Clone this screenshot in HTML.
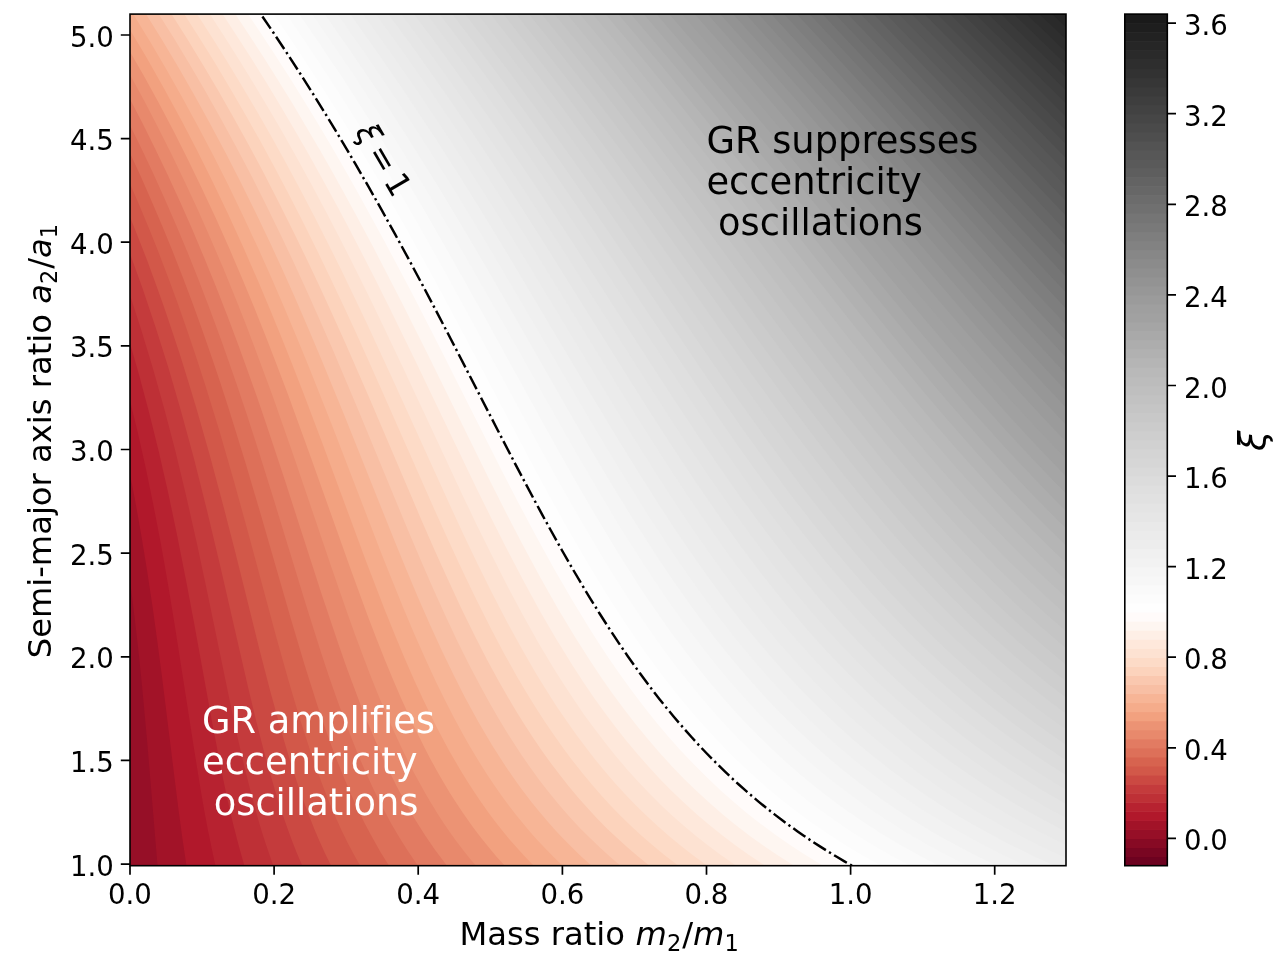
<!DOCTYPE html>
<html lang="en"><head><meta charset="utf-8"><title>GR eccentricity oscillations</title>
<style>
html,body{margin:0;padding:0;background:#fff;}
body{width:1280px;height:966px;overflow:hidden;}
svg{display:block;}
text{font-family:"DejaVu Sans","Liberation Sans",sans-serif;fill:#000;font-variant-ligatures:none;font-kerning:normal;white-space:pre;}
.tk{font-size:27.6px;}
.lb{font-size:32.2px;}
.an{font-size:36.8px;}
.it{font-style:italic;}
.sb{font-size:22.54px;}
.sp{fill:none;stroke:#000;stroke-width:1.6;stroke-linejoin:miter;}
.t{stroke:#000;stroke-width:1.7;fill:none;}
</style></head><body>
<svg width="1280" height="966" viewBox="0 0 1280 966">
<rect width="1280" height="966" fill="#fff"/>
<defs><clipPath id="ax"><rect x="130" y="14.1" width="936" height="851.6"/></clipPath></defs>
<g clip-path="url(#ax)" shape-rendering="geometricPrecision">
<rect x="130" y="14.1" width="936" height="851.6" fill="#960f27"/>
<path fill="#a21328" d="M157.6,866.6L1067,866.6L1067,13L129,13L129,573.9L132.6,601.1L136,629.5L139.2,658L142.3,688.8L147.3,743.3Z"/>
<path fill="#b1182b" d="M186.6,866.6L1067,866.6L1067,13L129,13L129,469L135.3,501.5L141.2,534.7L147,570.2L152.4,605.8L157,639L161.7,674.6L178.8,812.1L182.7,840.5Z"/>
<path fill="#b72230" d="M215.1,864.2L215.6,866.6L1067,866.6L1067,13L129,13L129,396.6L137.8,432.7L145.8,468.3L153.6,506.2L160.9,544.1L167.6,582.1L174.3,622.4L193.9,748.1L200.6,789.5L204.5,812.1L208,830.5L211.5,847.6Z"/>
<path fill="#be3036" d="M244.6,866.6L1067,866.6L1067,13L129,13L129,339.8L139.3,375.8L149.4,413.7L158.8,451.7L168,492L177,534.7L185.9,579.7L194.4,624.8L212.5,724.3L222.1,774.1L227.7,800.7L233.1,823.9L238.6,845.3Z"/>
<path fill="#c43b3c" d="M273.6,866.6L1067,866.6L1067,13L129,13L129,292.2L141.5,330.8L153,368.7L164.3,409L174.9,449.3L185.8,494.4L197,544.1L207.1,591.6L230.7,705.4L237.3,736.2L243.3,762.3L251,793.1L258.1,819.2L262.3,833.2L266.2,845.3Z"/>
<path fill="#cb4942" d="M301.6,864.2L302.6,866.6L1067,866.6L1067,13L129,13L129,251L142.4,288.1L156,328.4L168.7,368.7L181.1,411.4L194,458.8L207.1,511L220.1,565.5L248.4,688.8L256.4,722L263.7,750.4L273,783.6L278,800.2L282.6,814.4L287.6,828.7L291.9,840.5L296.6,852.4Z"/>
<path fill="#d25849" d="M330.4,864.2L331.6,866.6L1067,866.6L1067,13L129,13L129,214.4L137.6,235.9L146.8,259.6L155.5,283.3L164,307.1L172,330.8L180.6,356.8L188.7,382.9L196.6,409L210.1,456.4L223.4,506.2L235.6,553.6L259.8,650.9L270.2,691.1L280,726.7L289.4,758.8L294.4,774.3L299.3,789.1L304.3,803L309.5,816.8L314.2,828.7L319.2,840.5L324.6,852.4Z"/>
<path fill="#d7634f" d="M360.7,866.6L1067,866.6L1067,13L129,13L129,181.4L139.2,205.1L149.1,228.8L158.6,252.5L168.5,278.6L177.3,302.3L186.5,328.4L195.3,354.5L204.6,382.9L219.2,430.3L234.3,482.5L248,532.3L276.1,636.6L288.1,679.3L299.3,717.1L310.1,750.4L315.8,767L321.9,783.6L328.4,800.2L334.4,814.4L340.8,828.7L347.7,842.9L354,854.7Z"/>
<path fill="#dd7059" d="M388.1,864.2L389.7,866.6L1067,866.6L1067,13L129,13L129,151.2L140.8,176.6L151.3,200.4L161.4,224.1L172.1,250.1L182.4,276.2L192.2,302.3L202.5,330.8L212.4,359.2L220.4,382.9L228.8,409L245.7,463.5L260.4,513.3L291.2,620L304.6,665.1L317.4,705.4L323.8,724.3L329.7,740.9L336.8,759.9L343.8,777.3L351.2,794.7L358,809.7L365,823.9L372.6,838.1L380.7,852.4Z"/>
<path fill="#e27b62" d="M416.9,864.2L418.7,866.6L1067,866.6L1067,13L129,13L129,123.2L141.3,148.2L153.6,174.3L165.4,200.4L176.7,226.4L187.6,252.5L199,281L209.9,309.4L220.4,337.9L229.6,364L238.6,390L247.3,416.1L256.5,444.6L272.9,496.7L306.7,607.3L321.5,653.9L328.9,676.2L336.3,697.6L343.5,717.2L349.8,733.8L358.3,755.2L366,772.9L374.2,790.7L382.5,807.3L391.4,823.9L399.7,838.1L407.9,851.1Z"/>
<path fill="#e8896c" d="M445.8,864.2L447.7,866.6L1067,866.6L1067,13L129,13L129,97.2L141.9,122.1L154.9,148.2L167.4,174.3L180.5,202.7L192,228.8L204,257.3L215.6,285.7L227.6,316.5L237.4,342.6L246.9,368.7L257,397.1L266.7,425.6L284.8,480.1L321.5,593.8L338.3,643.7L346.6,667.4L354.5,688.8L361.7,707.7L369.4,726.7L378.3,747.6L387.2,767L396.5,786L405.5,802.8L414.9,819.2L425.2,835.6L435.1,850Z"/>
<path fill="#ec9374" d="M476.7,866.6L1067,866.6L1067,13L129,13L129,72.8L144.2,100.8L157.8,126.9L170.9,152.9L184.6,181.4L197.8,209.8L210.4,238.3L223.6,269.1L236.2,299.9L245.5,323.6L254.6,347.4L273,397.1L293.8,456.4L331.4,567.3L346.2,610.1L354.9,634.2L362.8,655.6L370,674.6L377.6,693.5L389.6,722L401.6,748.1L413.4,771.8L425.1,793.1L430.7,802.6L437.6,813.7L444.2,823.9L449.9,832.3L455.8,840.5L463,850L469.6,858.3Z"/>
<path fill="#f2a17f" d="M503.4,864.2L505.7,866.6L1067,866.6L1067,13L129,13L129,49.9L144.5,77.1L158.8,103.1L173.8,131.6L188.1,160.1L201.9,188.5L216.3,219.3L230,250.1L243.2,281L254,307.1L265.4,335.5L276.4,364L288.1,394.8L308.8,451.7L351.2,570.8L368.4,617.8L376.6,639L385,660.3L392.9,679.3L400.5,697.1L412.9,724.2L424.7,748.1L430.9,759.9L437.4,771.8L444.2,783.6L449.9,793L456,802.6L462.3,812.1L468.9,821.6L475.8,831L482,839.1L488.9,847.6L496.8,856.9Z"/>
<path fill="#f5ac8b" d="M532.3,864.2L534.7,866.6L1067,866.6L1067,13L129,13L129,28.1L146.8,58.1L164.3,88.9L181.1,119.7L197.1,150.6L212.5,181.4L228.3,214.6L243.5,247.8L259,283.3L270,309.4L280.7,335.5L291.1,361.6L302.2,390L322,442.2L365,558.4L384.1,608.2L394.6,634.2L404.5,658L413.8,679.3L423.6,700.6L436.4,726.7L449,750.4L461.4,771.8L468.7,783.6L474.9,793.1L481.3,802.6L488,812.1L495.1,821.6L502.6,831L509.1,839L516.7,847.6L523.9,855.6Z"/>
<path fill="#f7b596" d="M561.1,864.2L563.7,866.6L1067,866.6L1067,13L132.5,13L150,41.5L166.7,70L182.8,98.4L198.3,126.9L213.2,155.3L228.7,186.1L243.6,217L259,250.1L271.7,278.6L284,307.1L297,337.9L309.6,368.7L332.1,425.6L380.8,551.9L392.8,582.1L403,607.2L414.4,634.2L425.2,658.6L435.9,681.7L446.4,703L453.7,717.2L460.1,729.1L466.7,740.9L473.6,752.8L480.8,764.6L486.9,774.2L494.3,785.3L501.4,795.5L508.4,805L515.7,814.4L529.3,831L536.3,838.9L544.4,847.6L553.6,857Z"/>
<path fill="#f8bfa4" d="M590,864.2L592.7,866.6L1067,866.6L1067,13L145.3,13L161.5,39.1L178.5,67.6L194.8,96L210.5,124.5L225.7,152.9L240.3,181.4L255.5,212.2L270.2,243L282.2,269.1L294.9,297.6L308.3,328.4L321.3,359.2L344.6,416.1L394.9,541.8L406.6,570.2L417.8,596.9L430.1,625.1L441.9,650.8L453.4,674.6L464.2,695.9L471.8,710.1L478.4,722L485.3,733.8L492.4,745.7L499.9,757.5L507.7,769.4L515.9,781.2L522.8,790.7L531.4,801.9L539.6,812.1L547.6,821.6L556,831L563.4,838.8L572.1,847.6L580.7,855.9Z"/>
<path fill="#fac8af" d="M618.8,864.2L621.7,866.6L1067,866.6L1067,13L158,13L174.4,39.1L190.2,65.2L205.4,91.3L221.4,119.7L236.9,148.2L251.8,176.6L266.1,205.1L281.2,235.9L293.5,262L306.6,290.5L319.3,318.9L332.8,349.7L356.8,406.6L407.9,530L421,560.7L432.6,587.4L445.2,615.3L457.5,641.4L469.6,665.7L481.8,688.8L489.6,703L497.8,717.2L506.4,731.5L513.9,743.3L521.7,755.2L529.9,767L538.5,778.9L545.8,788.4L555.3,800.2L563.3,809.7L571.7,819.2L580.6,828.7L590,838.1L599.9,847.6L610.3,857Z"/>
<path fill="#fcd3bc" d="M647.6,864.2L650.7,866.6L1067,866.6L1067,13L170.8,13L187.3,39.1L203.2,65.2L218.6,91.3L233.5,117.4L247.9,143.5L263.2,171.9L277.8,200.4L293.2,231.2L305.8,257.3L318.1,283.3L331.2,311.8L345.1,342.6L368.9,397.1L421.6,520.4L435.1,551.2L446.9,577.3L461.2,608.2L474,634.2L486.9,659.5L499.3,682.2L508.5,698.3L516.5,711.8L524.3,724.3L533.6,738.6L541.7,750.4L551.1,763.5L559.1,774.1L568.5,786L578.3,797.7L586.8,807.3L597.8,819.2L607.2,828.7L617.1,838.1L627.6,847.6L637.5,856Z"/>
<path fill="#fddbc7" d="M676.5,864.2L679.7,866.6L1067,866.6L1067,13L183.5,13L198.7,36.8L214.9,62.8L230.5,88.9L245.6,115L260.3,141.1L274.5,167.2L289.4,195.6L304,224.1L316.9,250.1L329.5,276.2L343,304.7L356.1,333.1L380.6,387.7L435.1,511.1L449,541.8L462.2,570.2L477,601.1L490.1,627.1L503.9,653.2L517.2,676.9L526.4,692.5L535.8,707.7L545,722L553.6,734.6L563.1,748.1L572,759.9L581.3,771.8L591,783.6L600.5,794.5L610.3,805.2L620.2,815.4L631.3,826.3L641.6,835.8L652.6,845.3L664.1,854.7Z"/>
<path fill="#fde2d2" d="M705.3,864.2L708.7,866.6L1067,866.6L1067,13L196.3,13L211.6,36.8L226.5,60.5L240.9,84.2L256.3,110.3L271.2,136.3L285.7,162.4L299.7,188.5L314.6,217L327.8,243L340.8,269.1L353.4,295.2L366.9,323.6L392.2,378.2L449.3,503.8L463.6,534.7L477,562.7L492.5,593.9L507.3,622.4L521.6,648.5L536.3,673.9L546.2,690L556,705.4L565.6,719.6L575.6,733.8L585.7,747.3L595.5,759.9L605.2,771.8L615.3,783.4L625.2,794.2L635.5,805L647.4,816.6L657.9,826.3L668.7,835.8L680.2,845.3L692.3,854.7Z"/>
<path fill="#fee8db" d="M734.1,864.2L737.7,866.6L1067,866.6L1067,13L209.1,13L224.5,36.8L239.5,60.5L254.1,84.2L268.3,107.9L282.1,131.6L296.8,157.7L311.1,183.8L326.3,212.2L338.6,235.9L351.9,262L364.8,288.1L378.7,316.5L404.6,371.1L462.2,494.4L477,525.4L490.9,553.6L507.8,586.8L523,615.3L538.8,643.4L553.6,668.2L563.6,684L574.5,700.6L584.3,714.9L594.7,729.1L605.4,743.1L615.3,755.4L627.1,769.4L637.8,781.2L649,793.1L660.9,805L672.1,815.4L684.4,826.3L695.7,835.8L707.8,845.3L720.5,854.7Z"/>
<path fill="#feefe6" d="M763,864.2L766.7,866.6L1067,866.6L1067,13L221.8,13L235.9,34.4L251.1,58.1L265.9,81.8L280.2,105.5L294.2,129.2L309.2,155.3L322.4,179L336.6,205.1L349.2,228.8L362.8,254.9L376.1,281L390.3,309.4L415.7,361.6L476,487.2L491.9,519.5L506.7,548.8L524.1,582.1L541,612.9L556.2,639L572.3,665.1L583.1,681.7L593.1,696.4L604.6,712.5L615.3,726.7L626.5,740.9L637.5,754.1L648.9,767L659.9,778.9L671.5,790.7L683.8,802.6L696.7,814.3L709.1,824.8L722.8,835.8L735.3,845.3L748.7,854.7Z"/>
<path fill="#fef6f1" d="M791.8,864.2L795.7,866.6L1067,866.6L1067,13L234.6,13L248.8,34.4L264.1,58.1L277.6,79.4L292.2,103.1L306.3,126.9L320.2,150.6L333.7,174.3L346.8,198L359.7,221.7L373.6,247.8L400.5,299.9L426.6,352.1L489.4,479.7L506.7,513.9L521.5,542.5L540.2,577.3L557.7,608.2L574.7,636.6L590.6,661.6L602.4,679.3L612.8,694L624.7,710.1L635.7,724.3L647.4,738.6L659.6,752.8L672.1,766.4L684.1,778.9L696.3,790.7L709.1,802.5L721.4,813.3L734.4,823.9L748.6,834.9L762.9,845.3L776.9,854.7Z"/>
<path fill="#fffbfa" d="M820.6,864.2L824.7,866.6L1067,866.6L1067,13L247.3,13L261.7,34.4L275.6,55.7L289.3,77.1L304,100.8L317,122.1L331.1,145.8L344.8,169.5L358.2,193.2L384.2,240.7L411.8,292.8L438.5,345L501.7,470.5L520.2,506.2L536.3,536.5L554.9,570.2L573.3,602.1L590.6,630.3L599.2,643.7L608.6,658L620.2,674.8L632,691.1L644.7,707.7L656,722L668,736.2L680.7,750.4L694.1,764.6L706.6,777.1L721,790.7L733.8,802L746.1,812.4L760.8,823.9L775.7,835L790.5,845.3L805.1,854.7Z"/>
<path fill="#fefefe" d="M849.5,864.2L853.7,866.6L1067,866.6L1067,13L260.1,13L273,32L287.1,53.4L300.9,74.7L314.4,96L327.6,117.4L341.9,141.1L354.5,162.4L368.2,186.1L394.7,233.6L422.9,285.7L450.2,337.9L515,463.5L533.8,499.1L551.1,530.9L570.8,565.8L590.4,598.7L608.3,627.1L617.7,641.5L627.4,655.6L640,673.3L652.3,689.8L664.5,705.4L677,720.5L690.7,736.2L703.9,750.4L716.5,763.3L730.1,776.5L743.6,788.8L758.4,801.5L773.3,813.4L787.2,823.9L802.9,835.1L818.1,845.3L833.3,854.7Z"/>
<path fill="#fcfcfc" d="M878.3,864.2L882.7,866.6L1067,866.6L1067,13L272.8,13L285.8,32L300.1,53.4L326.2,93.7L339.6,115L352.6,136.3L378,179L405.1,226.4L433.8,278.6L461.8,330.8L528.9,458L548.6,494.5L565.7,525.2L586.3,560.7L596.2,577.3L606.5,593.9L617,610.5L626.4,624.8L636,639L644.9,651.7L658.1,669.8L670.8,686.4L684.2,703L696.7,717.7L711.2,733.8L723.9,747.2L736.6,759.9L751.7,774.1L767.8,788.4L782.1,800.2L797.3,812.1L812.8,823.4L827.6,833.6L844.8,844.7L861.5,854.7Z"/>
<path fill="#fafafa" d="M907.2,864.2L911.7,866.6L1067,866.6L1067,13L285.6,13L311.5,51L337.9,91.3L363.3,131.6L389.1,174.3L416.7,221.7L444.7,271.5L473.2,323.6L541.2,449.9L561,485.7L579.4,518.1L601.8,556L611.9,572.6L622.4,589.2L632.6,604.8L642.8,620L652.6,634.2L662.8,648.5L677,667.4L690.1,684L703.8,700.6L718.3,717.2L731.5,731.5L746.1,746.4L760.9,760.7L775.7,774.1L790.5,786.8L805.3,798.7L820.2,809.9L837.4,822.2L854.2,833.4L872,844.4L889.7,854.7Z"/>
<path fill="#f7f7f7" d="M936,864.2L940.7,866.6L1067,866.6L1067,13L298.4,13L322.9,48.6L348.1,86.6L373.9,126.9L398.7,167.2L426.8,214.6L455.3,264.4L484.4,316.5L554.9,444.6L575.8,481.6L594.2,513.3L617.1,551.3L627.6,568L638.2,584.5L649.2,601.1L659.7,616.3L670.8,631.9L681.2,646.1L695.8,665.1L709.2,681.7L723.3,698.3L738.2,714.9L753.5,730.9L768.3,745.6L783.1,759.5L797.9,772.5L814.2,786L829.3,797.8L845.5,809.7L862.7,821.6L881.1,833.4L899.1,844.2L917.9,854.7Z"/>
<path fill="#f5f5f5" d="M964.8,864.2L969.7,866.6L1067,866.6L1067,13L311.1,13L326.1,34.4L340.7,55.7L355.1,77.1L369.1,98.4L382.8,119.7L397.8,143.5L426.8,190.9L450.7,231.2L476.7,276.2L500.9,318.9L553.6,413L578.3,456.4L600.5,494.5L620.2,527.2L640,558.6L660.2,589.2L670,603.4L680.1,617.6L689.3,630.2L699.5,643.7L714,662.2L728.8,680L743.6,697L758.4,713L774.1,729.1L788.8,743.3L804.4,757.5L821,771.8L837.4,785L854.4,797.8L871.1,809.7L889,821.6L908,833.4L926.3,844L946,854.7Z"/>
<path fill="#f2f2f2" d="M993.7,864.2L998.7,866.6L1067,866.6L1067,13L323.9,13L352.1,53.4L366.6,74.7L380.8,96L408.4,138.7L437.9,186.1L462.2,226.4L488.7,271.5L513.3,314.2L565.9,406.3L590.6,448.9L612.8,486.3L633.8,520.4L655,553.6L666.1,570.2L677,586.1L687.5,601.1L697.8,615.3L708.5,629.5L717.7,641.4L733,660.3L748.6,678.6L764.1,695.9L779.8,712.5L795.5,728L811.8,743.3L827.9,757.5L844.8,771.6L862.1,785.1L879.5,797.8L896.8,809.7L915.2,821.6L934.9,833.4L953.5,843.8L974.3,854.7Z"/>
<path fill="#f0f0f0" d="M1022.5,864.2L1027.7,866.6L1067,866.6L1067,13L336.6,13L365.1,53.4L392.5,93.7L420.5,136.3L450.4,183.8L475.1,224.1L500.5,266.7L524.2,307.1L578.3,399.9L602.9,441.7L626.2,480.1L647.4,514.1L670.1,548.9L681.9,566.3L692.9,582.1L703.2,596.3L714,611L724.6,624.8L736.2,639.5L751.5,658L768,676.9L783.2,693.5L799.4,710.1L816.5,726.7L832.5,741.4L849.8,756.3L867.1,770.3L884.6,783.6L904.1,797.5L922.5,809.7L941.1,821.3L960.9,832.8L980.6,843.6L1002.5,854.7Z"/>
<path fill="#ededed" d="M1051.3,864.2L1056.7,866.6L1067,866.6L1067,13L349.4,13L378.1,53.4L405.8,93.7L434.1,136.3L461.4,179L486.4,219.3L512.3,262L590.6,393.8L615.3,434.8L640,474.9L661.4,508.6L673.8,527.6L685,544.1L696.7,561.1L708.3,577.3L720.4,593.9L731.2,608.2L742.3,622.4L753.8,636.6L769.8,655.6L786.7,674.6L802.9,691.8L820.2,709.1L837.4,725.5L854.7,740.9L871.8,755.2L889.8,769.4L909,783.6L926.3,795.6L946,808.4L965.8,820.4L985.5,831.6L1006.7,842.9L1030,854.4Z"/>
<path fill="#ebebeb" d="M1064.1,857.1L1067,858.4L1067,13L362.1,13L389.5,51L417.5,91.3L446.1,134L473.7,176.6L497.7,214.6L524,257.3L600.5,383.8L627.6,428.2L652.3,467.6L674.2,501.5L698.1,537L709.8,553.6L721.7,570.2L733.8,586.5L744.9,601.1L756.1,615.3L768.3,630.2L783.9,648.5L800.9,667.4L817.7,685.2L835,702.4L852.2,718.7L869.3,733.8L886.3,748.1L904.1,762.1L923.5,776.5L941.1,788.8L960.9,801.7L980.6,813.8L1000.4,825.1L1020.2,835.8L1042.3,846.9Z"/>
<path fill="#e9e9e9" d="M1066.5,845.3L1067,845.5L1067,13L374.9,13L402.5,51L429.1,88.9L456.5,129.2L484.5,171.9L508.8,209.8L534.1,250.1L612.8,378.1L637.5,417.9L662.2,456.8L685.2,492L709.4,527.6L721.4,544.5L733.2,560.7L743.8,575L756,590.8L767.8,605.8L778.2,618.4L793.6,636.6L810.3,655.3L826.1,672.2L842.4,688.8L859.7,705.4L876.9,721L894.2,735.8L911.5,749.8L928.8,762.9L947.6,776.5L965.8,788.8L985.5,801.3L1005.3,813.1L1024.6,823.9L1044.8,834.5Z"/>
<path fill="#e6e6e6" d="M1064.7,831L1067,832.2L1067,13L387.6,13L415.5,51L442.3,88.9L470,129.2L496.8,169.5L521.5,207.5L547.1,247.8L625.2,372.7L649.8,411.8L674.5,450.1L696,482.5L720.5,518.1L742.7,548.9L764.3,577.3L775.7,591.8L787.1,605.8L802.9,624.5L817.8,641.4L833.1,658L849.8,675.1L866.1,691.1L881.9,705.8L899.1,721L916.4,735.4L933.7,749L951,761.9L968.3,774.1L986.1,786L1005,797.8L1025.1,809.7L1044.8,820.6Z"/>
<path fill="#e4e4e4" d="M1063.8,816.8L1067,818.5L1067,13L400.4,13L426.7,48.6L453.9,86.6L481.9,126.9L509.1,167.2L532.5,202.7L558.5,243L635,363.5L661.1,404.3L684.4,439.9L706.6,473L731.3,508.5L753.5,539.1L775.5,567.9L796.4,593.9L812.4,612.9L827,629.5L842.4,646.3L858.2,662.7L874.5,678.9L890,693.5L905.8,707.7L922.5,722L938.6,735.1L955.5,748.1L973.2,760.9L990.5,772.9L1007.8,784.1L1026.1,795.5L1044.8,806.4Z"/>
<path fill="#e1e1e1" d="M1063.5,802.6L1067,804.5L1067,13L413.2,13L439.7,48.6L465.4,84.2L492.1,122.1L519.7,162.4L543.4,198L569.9,238.3L647.4,358.5L672.1,396.4L696.1,432.7L717,463.5L740.3,496.7L762.8,527.6L784.6,556L805.5,582.1L820.2,599.5L835,616.5L849.8,632.8L864.6,648.5L879.4,663.4L895.9,679.3L911.3,693.5L927.6,707.7L943.6,721.1L959.6,733.8L975.7,745.9L992.9,758.3L1009.2,769.4L1027.6,781.2L1044.8,791.7Z"/>
<path fill="#dfdfdf" d="M1063.8,788.4L1067,790.2L1067,13L425.9,13L452.7,48.6L478.6,84.2L505.6,122.1L531.8,160.1L555.9,195.6L581.1,233.6L659.7,353.6L684.4,391L707.7,425.6L728.8,456.3L751,487.7L773.3,517.8L793.5,544.1L814.4,570.2L830,588.9L844.8,605.8L859.7,622.2L873.2,636.6L887.2,650.8L901.7,665.1L916.8,679.3L932.7,693.5L948.5,707.1L963.9,719.6L979.1,731.5L995.4,743.6L1011.8,755.2L1029.5,767L1047.3,778.3Z"/>
<path fill="#dcdcdc" d="M1064.6,774.1L1067,775.6L1067,13L438.7,13L463.9,46.2L490.1,81.8L517.4,119.7L543.9,157.7L566.7,190.9L592.3,228.8L669.6,345.2L694.3,382.1L717.4,416.1L738.7,446.7L760.9,477.7L782,506.2L802.9,533.3L823.1,558.4L837.4,575.6L851.3,591.6L864.6,606.4L879.4,622.4L894.2,637.7L909,652.4L923.8,666.5L938.6,680.1L953.5,693L968.3,705.4L983.1,717.3L1000.4,730.5L1015.2,741.3L1031.6,752.8L1047.3,763.2Z"/>
<path fill="#d9d9d9" d="M1065.8,759.9L1067,760.7L1067,13L451.4,13L476.8,46.2L503.3,81.8L529.1,117.4L556,155.3L579,188.5L605,226.4L704.1,373.4L727,406.6L748.6,437.2L770.8,468L792.2,496.7L812.4,522.8L831.5,546.5L845.4,563.1L859.7,579.7L874.5,596.2L887.7,610.5L901.6,625.1L916.4,640L931.2,654.3L945.4,667.4L960.9,681.1L975.4,693.5L989.9,705.4L1005,717.2L1020.1,728.5L1034.9,739.2L1049.7,749.3Z"/>
<path fill="#d6d6d6" d="M1063.8,743.3L1067,745.5L1067,13L464.2,13L489.8,46.2L514.8,79.4L540.8,115L568,152.9L591.4,186.1L616,221.7L716.5,368.5L738.7,400.3L760.1,430.3L780.7,458.6L800.4,484.9L820.2,510.3L839.8,534.7L853.7,551.3L867.1,566.9L880.5,582.1L894.2,597L907,610.5L920.9,624.8L935.4,639L948.5,651.4L963.3,665L976.9,676.9L991,688.8L1005.3,700.4L1020.1,712L1033.5,722L1049.7,733.6Z"/>
<path fill="#d4d4d4" d="M1065.7,729.1L1067,730L1067,13L476.9,13L502.8,46.2L527.9,79.4L554.3,115L580,150.6L602,181.4L626.9,217L726.4,360.3L748.6,391.7L769.5,420.9L790.5,449.4L810.3,475.5L828.7,499.1L847.9,522.8L861.7,539.4L874.5,554.3L888.5,570.2L901.6,584.6L914.9,598.7L928.7,612.9L941.1,625.3L955.3,639L968.1,650.8L981.3,662.7L995,674.6L1009.3,686.4L1022.6,697.1L1036.4,707.7L1052.2,719.5Z"/>
<path fill="#d1d1d1" d="M1064.6,712.5L1067,714.2L1067,13L489.7,13L513.9,43.9L539.3,77.1L565.9,112.6L592,148.2L614.2,179L639.4,214.6L736.2,352.3L758.4,383.4L778.8,411.4L798.2,437.5L817.7,463.1L836.6,487.2L854.7,509.7L867.6,525.2L881.8,541.8L894.2,556L906.6,569.6L918.9,583L931.6,596.3L945.7,610.5L957.7,622.4L970.2,634.2L983.1,646.1L996.4,658L1010.2,669.8L1022.6,680.1L1036.4,691.1L1049.7,701.4Z"/>
<path fill="#cecece" d="M1063.9,695.9L1067,698.2L1067,13L502.5,13L526.8,43.9L550.7,74.7L575.8,107.9L602.2,143.5L648.5,207.5L748.6,347.9L770.8,378.6L789.7,404.3L809.2,430.3L827.6,454.2L844.8,476.2L862.1,497.5L887.4,527.6L899.8,541.8L912.5,556L923.8,568.3L936.8,582.1L950.7,596.3L962.6,608.2L974.8,620L987.5,631.9L1000.4,643.6L1012.7,654.4L1025.2,665.1L1037.4,675.1L1051.6,686.4Z"/>
<path fill="#cbcbcb" d="M1066.6,681.7L1067,682L1067,13L515.2,13L539.8,43.9L563.8,74.7L589.2,107.9L614,141.1L660.9,205.1L758.4,340.3L780.7,370.7L800.4,397.2L820.2,423.2L837.4,445.5L854.7,467.3L870.9,487.2L894.9,515.7L920,544.1L944.2,570.2L968.3,594.9L980.6,606.9L992.9,618.7L1005.3,630.1L1017.6,641.1L1030,651.8L1042.3,662.2Z"/>
<path fill="#c8c8c8" d="M1066.4,665.1L1067,665.6L1067,13L528,13L549,39.1L569.6,65.2L589.8,91.3L611.5,119.7L634.7,150.6L661.1,186.1L758.4,319.5L797.9,372.8L820.2,402.1L839.9,427.6L859.7,452.6L878.2,475.4L902.2,503.8L926.3,531.3L949.1,556L972,579.7L995.4,602.7L1019.1,624.8L1042.3,645.1Z"/>
<path fill="#c5c5c5" d="M1066.4,648.5L1067,648.9L1067,13L540.7,13L561.9,39.1L582.6,65.2L603.1,91.3L625,119.7L648.4,150.6L673.3,183.8L768.3,312.4L806.9,364L827.6,391L847.3,416.3L867.1,441.1L885.3,463.5L909,491.6L931.2,517L953.9,541.8L976.6,565.5L998,586.8L1020.4,608.2L1044.1,629.5Z"/>
<path fill="#c2c2c2" d="M1066.7,631.9L1067,632.2L1067,13L553.5,13L574.8,39.1L595.7,65.2L616.3,91.3L638.4,119.7L662.1,150.6L687.2,183.8L778.2,305.5L815.2,354.4L835.4,380.6L855.8,406.6L874.5,429.9L892.3,451.7L914.3,477.8L937,503.8L958.6,527.6L980.6,550.8L1002.2,572.6L1024.3,593.9L1045,612.9Z"/>
<path fill="#bfbfbf" d="M1064.3,612.9L1067,615.2L1067,13L566.2,13L585.8,36.8L606.9,62.8L627.7,88.9L650,117.4L697.5,179L788.1,298.7L825.1,347.1L844.8,372.5L864.6,397.5L881.9,419L899,439.8L921,465.9L941.7,489.6L963.1,513.3L983.1,534.6L1002.8,554.9L1023.2,575L1043.3,593.9Z"/>
<path fill="#bcbcbc" d="M1064.9,596.3L1067,598.2L1067,13L579,13L598.7,36.8L620,62.8L640.9,88.9L663.5,117.4L709.6,176.6L797.9,292.1L832.5,336.9L870.7,385.3L889.3,408.2L905.6,428L927.7,454.1L948.3,477.8L968.3,499.9L987.4,520.4L1007.8,541.5L1027,560.7L1046.9,579.7Z"/>
<path fill="#b9b9b9" d="M1065.6,579.7L1067,581L1067,13L591.7,13L611.6,36.8L633,62.8L676.9,117.4L721.6,174.3L807.8,285.7L842.4,330L879.4,376.4L911.5,415.5L932.1,439.8L952.7,463.5L971.8,484.9L990.5,505.1L1009.6,525.2L1028.4,544.1L1047.3,562.5Z"/>
<path fill="#b5b5b5" d="M1066.3,563.1L1067,563.8L1067,13L604.5,13L624.5,36.8L646.1,62.8L688.4,115L733.6,171.9L817.7,279.4L852.2,323.2L886.8,366.2L918.9,405.1L938.6,428.3L958.4,451L978.1,473L995.4,491.9L1012.7,510.1L1030,527.8L1048.9,546.5Z"/>
<path fill="#b1b1b1" d="M1064.6,544.1L1067,546.5L1067,13L617.3,13L637.4,36.8L659.2,62.8L701.9,115L745.6,169.5L827.6,273.3L859.7,313.6L894.2,356.2L923.8,391.9L942.4,413.7L960.9,435.1L979.9,456.4L997.2,475.4L1015,494.4L1031.1,511L1047.5,527.6Z"/>
<path fill="#adadad" d="M1065.3,527.6L1067,529.2L1067,13L630,13L670.3,60.5L713.4,112.6L757.5,167.2L837.4,267.3L869.5,307.1L901.6,346.4L931.2,381.9L948.5,402.2L966.9,423.2L983.7,442.2L1000.4,460.5L1016.5,477.8L1032.4,494.5L1048.6,511Z"/>
<path fill="#a9a9a9" d="M1066.1,511L1067,511.8L1067,13L642.8,13L683.3,60.5L724.8,110.3L769.4,164.8L876.9,297.8L909,336.8L938.6,372.1L972.6,411.4L988,428.6L1004.6,446.9L1020.1,463.6L1035.8,480.1L1051.9,496.7Z"/>
<path fill="#a5a5a5" d="M1066.9,494.4L1067,494.5L1067,13L655.5,13L696.4,60.5L738.2,110.3L781.2,162.4L886.8,291.7L916.4,327.4L943.6,359.5L976.2,397.1L1007.8,432.4L1037.4,464.1L1052.2,479.5Z"/>
<path fill="#a1a1a1" d="M1065.2,475.4L1067,477.2L1067,13L668.3,13L707.4,58.1L749.6,107.9L793,160.1L894.2,282.8L923.8,318.2L951,350.1L981.6,385.3L1010.2,417.2L1037.8,446.9Z"/>
<path fill="#9f9f9f" d="M1065.9,458.8L1067,459.9L1067,13L681,13L720.4,58.1L763,107.9L804.8,157.7L904.1,276.9L931.2,309.1L955.9,337.9L985.5,371.9L1012.7,402.2L1039.8,431.6Z"/>
<path fill="#9b9b9b" d="M1066.4,442.2L1067,442.8L1067,13L693.8,13L733.4,58.1L774.3,105.5L814.5,152.9L911.5,268.3L938.6,300.2L963.3,328.9L990.5,359.8L1017.6,390L1042.3,416.8Z"/>
<path fill="#979797" d="M1066.9,425.6L1067,13L706.6,13L746.5,58.1L787.7,105.5L826.2,150.6L921.4,262.7L969.8,318.9L995.4,347.9L1020.1,375.4L1044.5,401.9Z"/>
<path fill="#939393" d="M1065.1,406.6L1067,408.7L1067,13L719.3,13L757.4,55.7L798.9,103.1L837.8,148.2L928.8,254.4L975.7,308.4L1000.4,336.2L1022.6,360.9L1044.8,385.1Z"/>
<path fill="#8f8f8f" d="M1065.3,390L1067,391.8L1067,13L732.1,13L770.4,55.7L810.2,100.8L849.4,145.8L938.6,249L980.6,297L1002.8,322L1025,346.6L1044.8,368.1Z"/>
<path fill="#8b8b8b" d="M1065.5,373.4L1067,375.1L1067,13L744.8,13L783.5,55.7L823.5,100.8L861,143.5L946,241L988,288.6L1028.1,333.1Z"/>
<path fill="#878787" d="M1065.5,356.8L1067,358.5L1067,13L757.6,13L794.3,53.4L834.7,98.4L955.9,235.9L995.4,280.3L1032.4,321.2Z"/>
<path fill="#828282" d="M1065.3,340.2L1067,342L1067,13L770.3,13L807.4,53.4L845.9,96L963.3,228.1L1000.4,269.4L1034.9,307.4Z"/>
<path fill="#7e7e7e" d="M1065,323.6L1067,325.7L1067,13L783.1,13L818.2,51L857.1,93.7L1007.8,261.4L1037.4,293.9Z"/>
<path fill="#797979" d="M1066.8,309.4L1067,309.6L1067,13L795.8,13L826.8,46.2L861.7,84.2L1005.3,242.8L1037.4,277.8Z"/>
<path fill="#757575" d="M1066.2,292.8L1067,293.7L1067,13L808.6,13L839.8,46.2L874.9,84.2L1010.2,232.4L1039.8,264.6Z"/>
<path fill="#707070" d="M1065.4,276.2L1067,278L1067,13L821.4,13L852.7,46.2L888.1,84.2L1015.2,222.3Z"/>
<path fill="#6c6c6c" d="M1066.6,262L1067,262.4L1067,13L834.1,13L865.7,46.2L901.3,84.2L1022.6,214.9Z"/>
<path fill="#676767" d="M1065.4,245.4L1067,247L1067,13L846.9,13L878.6,46.2L914.5,84.2L1025,202.4Z"/>
<path fill="#636363" d="M1066.3,231.2L1067,231.9L1067,13L859.6,13L891.6,46.2L927.7,84.2Z"/>
<path fill="#5e5e5e" d="M1064.8,214.6L1067,216.9L1067,13L872.4,13L904.6,46.2L938.7,81.8Z"/>
<path fill="#5a5a5a" d="M1065.3,200.4L1067,202.2L1067,13L885.1,13L949.6,79.4Z"/>
<path fill="#575757" d="M1065.6,186.1L1067,187.6L1067,13L897.9,13L960.5,77.1Z"/>
<path fill="#535353" d="M1065.7,171.9L1067,173.3L1067,13L910.7,13L971.3,74.7Z"/>
<path fill="#4e4e4e" d="M1065.6,157.7L1067,159.1L1067,13L923.4,13L979.8,70Z"/>
<path fill="#4a4a4a" d="M1065.3,143.5L1067,145.1L1067,13L936.2,13L990.5,67.6Z"/>
<path fill="#464646" d="M1064.9,129.2L1067,131.4L1067,13L948.9,13L998.9,62.8Z"/>
<path fill="#424242" d="M1066.5,117.4L1067,117.8L1067,13L961.7,13L1007.2,58.1Z"/>
<path fill="#3e3e3e" d="M1065.7,103.1L1067,104.5L1067,13L974.4,13L1015.5,53.4Z"/>
<path fill="#3a3a3a" d="M1064.6,88.9L1067,91.3L1067,13L987.2,13Z"/>
<path fill="#363636" d="M1065.7,77.1L1067,78.3L1067,13L999.9,13Z"/>
<path fill="#323232" d="M1066.7,65.2L1067,65.5L1067,13L1012.7,13Z"/>
<path fill="#2e2e2e" d="M1065,51L1067,52.9L1067,13L1025.5,13Z"/>
<path fill="#2a2a2a" d="M1065.6,39.1L1067,40.5L1067,13L1038.2,13Z"/>
<path fill="#262626" d="M1066,27.3L1067,28.2L1067,13L1051,13Z"/>
<path fill="#222222" d="M1066.3,15.4L1067,16.1L1067,13L1063.7,13Z"/>
<path d="M260.77,14.05L273.79,33.26L287.92,54.60L301.71,75.94L315.18,97.28L328.35,118.63L342.51,142.10L355.09,163.44L368.64,186.92L381.91,210.40L394.92,233.87L408.86,259.48L422.56,285.09L436.06,310.71L450.51,338.45L497.75,430.22L515.47,464.37L525.58,483.58L534.67,500.65L542.73,515.59L550.91,530.53L561.64,549.74L571.42,566.81L581.44,583.88L590.46,598.82L599.73,613.76L609.29,628.70L619.18,643.64L627.95,656.45L633.96,664.98L640.12,673.52L646.42,682.06L652.89,690.59L659.53,699.13L666.36,707.67L673.38,716.21L678.79,722.61L686.21,731.14L691.92,737.55L699.77,746.08L705.83,752.49L712.06,758.89L718.46,765.29L725.04,771.69L731.82,778.10L738.80,784.50L746.00,790.90L753.43,797.31L758.52,801.57L766.37,807.98L774.50,814.38L782.91,820.78L788.69,825.05L797.64,831.45L803.79,835.72L813.33,842.12L819.91,846.39L830.12,852.79L837.17,857.06L844.43,861.33L851.90,865.60" fill="none" stroke="#000" stroke-width="2.45" stroke-dasharray="14.752 3.688 2.305 3.688" stroke-dashoffset="21.51"/>
</g>
<g>
<rect x="1124.8" y="856.54" width="42.5" height="9.06" fill="#6d0220"/>
<rect x="1124.8" y="847.48" width="42.5" height="9.66" fill="#790622"/>
<rect x="1124.8" y="838.42" width="42.5" height="9.66" fill="#870a24"/>
<rect x="1124.8" y="829.36" width="42.5" height="9.66" fill="#960f27"/>
<rect x="1124.8" y="820.30" width="42.5" height="9.66" fill="#a21328"/>
<rect x="1124.8" y="811.25" width="42.5" height="9.66" fill="#b1182b"/>
<rect x="1124.8" y="802.19" width="42.5" height="9.66" fill="#b72230"/>
<rect x="1124.8" y="793.13" width="42.5" height="9.66" fill="#be3036"/>
<rect x="1124.8" y="784.07" width="42.5" height="9.66" fill="#c43b3c"/>
<rect x="1124.8" y="775.01" width="42.5" height="9.66" fill="#cb4942"/>
<rect x="1124.8" y="765.95" width="42.5" height="9.66" fill="#d25849"/>
<rect x="1124.8" y="756.89" width="42.5" height="9.66" fill="#d7634f"/>
<rect x="1124.8" y="747.83" width="42.5" height="9.66" fill="#dd7059"/>
<rect x="1124.8" y="738.77" width="42.5" height="9.66" fill="#e27b62"/>
<rect x="1124.8" y="729.71" width="42.5" height="9.66" fill="#e8896c"/>
<rect x="1124.8" y="720.66" width="42.5" height="9.66" fill="#ec9374"/>
<rect x="1124.8" y="711.60" width="42.5" height="9.66" fill="#f2a17f"/>
<rect x="1124.8" y="702.54" width="42.5" height="9.66" fill="#f5ac8b"/>
<rect x="1124.8" y="693.48" width="42.5" height="9.66" fill="#f7b596"/>
<rect x="1124.8" y="684.42" width="42.5" height="9.66" fill="#f8bfa4"/>
<rect x="1124.8" y="675.36" width="42.5" height="9.66" fill="#fac8af"/>
<rect x="1124.8" y="666.30" width="42.5" height="9.66" fill="#fcd3bc"/>
<rect x="1124.8" y="657.24" width="42.5" height="9.66" fill="#fddbc7"/>
<rect x="1124.8" y="648.18" width="42.5" height="9.66" fill="#fde2d2"/>
<rect x="1124.8" y="639.12" width="42.5" height="9.66" fill="#fee8db"/>
<rect x="1124.8" y="630.06" width="42.5" height="9.66" fill="#feefe6"/>
<rect x="1124.8" y="621.01" width="42.5" height="9.66" fill="#fef6f1"/>
<rect x="1124.8" y="611.95" width="42.5" height="9.66" fill="#fffbfa"/>
<rect x="1124.8" y="602.89" width="42.5" height="9.66" fill="#fefefe"/>
<rect x="1124.8" y="593.83" width="42.5" height="9.66" fill="#fcfcfc"/>
<rect x="1124.8" y="584.77" width="42.5" height="9.66" fill="#fafafa"/>
<rect x="1124.8" y="575.71" width="42.5" height="9.66" fill="#f7f7f7"/>
<rect x="1124.8" y="566.65" width="42.5" height="9.66" fill="#f5f5f5"/>
<rect x="1124.8" y="557.59" width="42.5" height="9.66" fill="#f2f2f2"/>
<rect x="1124.8" y="548.53" width="42.5" height="9.66" fill="#f0f0f0"/>
<rect x="1124.8" y="539.47" width="42.5" height="9.66" fill="#ededed"/>
<rect x="1124.8" y="530.42" width="42.5" height="9.66" fill="#ebebeb"/>
<rect x="1124.8" y="521.36" width="42.5" height="9.66" fill="#e9e9e9"/>
<rect x="1124.8" y="512.30" width="42.5" height="9.66" fill="#e6e6e6"/>
<rect x="1124.8" y="503.24" width="42.5" height="9.66" fill="#e4e4e4"/>
<rect x="1124.8" y="494.18" width="42.5" height="9.66" fill="#e1e1e1"/>
<rect x="1124.8" y="485.12" width="42.5" height="9.66" fill="#dfdfdf"/>
<rect x="1124.8" y="476.06" width="42.5" height="9.66" fill="#dcdcdc"/>
<rect x="1124.8" y="467.00" width="42.5" height="9.66" fill="#d9d9d9"/>
<rect x="1124.8" y="457.94" width="42.5" height="9.66" fill="#d6d6d6"/>
<rect x="1124.8" y="448.88" width="42.5" height="9.66" fill="#d4d4d4"/>
<rect x="1124.8" y="439.82" width="42.5" height="9.66" fill="#d1d1d1"/>
<rect x="1124.8" y="430.77" width="42.5" height="9.66" fill="#cecece"/>
<rect x="1124.8" y="421.71" width="42.5" height="9.66" fill="#cbcbcb"/>
<rect x="1124.8" y="412.65" width="42.5" height="9.66" fill="#c8c8c8"/>
<rect x="1124.8" y="403.59" width="42.5" height="9.66" fill="#c5c5c5"/>
<rect x="1124.8" y="394.53" width="42.5" height="9.66" fill="#c2c2c2"/>
<rect x="1124.8" y="385.47" width="42.5" height="9.66" fill="#bfbfbf"/>
<rect x="1124.8" y="376.41" width="42.5" height="9.66" fill="#bcbcbc"/>
<rect x="1124.8" y="367.35" width="42.5" height="9.66" fill="#b9b9b9"/>
<rect x="1124.8" y="358.29" width="42.5" height="9.66" fill="#b5b5b5"/>
<rect x="1124.8" y="349.23" width="42.5" height="9.66" fill="#b1b1b1"/>
<rect x="1124.8" y="340.18" width="42.5" height="9.66" fill="#adadad"/>
<rect x="1124.8" y="331.12" width="42.5" height="9.66" fill="#a9a9a9"/>
<rect x="1124.8" y="322.06" width="42.5" height="9.66" fill="#a5a5a5"/>
<rect x="1124.8" y="313.00" width="42.5" height="9.66" fill="#a1a1a1"/>
<rect x="1124.8" y="303.94" width="42.5" height="9.66" fill="#9f9f9f"/>
<rect x="1124.8" y="294.88" width="42.5" height="9.66" fill="#9b9b9b"/>
<rect x="1124.8" y="285.82" width="42.5" height="9.66" fill="#979797"/>
<rect x="1124.8" y="276.76" width="42.5" height="9.66" fill="#939393"/>
<rect x="1124.8" y="267.70" width="42.5" height="9.66" fill="#8f8f8f"/>
<rect x="1124.8" y="258.64" width="42.5" height="9.66" fill="#8b8b8b"/>
<rect x="1124.8" y="249.59" width="42.5" height="9.66" fill="#878787"/>
<rect x="1124.8" y="240.53" width="42.5" height="9.66" fill="#828282"/>
<rect x="1124.8" y="231.47" width="42.5" height="9.66" fill="#7e7e7e"/>
<rect x="1124.8" y="222.41" width="42.5" height="9.66" fill="#797979"/>
<rect x="1124.8" y="213.35" width="42.5" height="9.66" fill="#757575"/>
<rect x="1124.8" y="204.29" width="42.5" height="9.66" fill="#707070"/>
<rect x="1124.8" y="195.23" width="42.5" height="9.66" fill="#6c6c6c"/>
<rect x="1124.8" y="186.17" width="42.5" height="9.66" fill="#676767"/>
<rect x="1124.8" y="177.11" width="42.5" height="9.66" fill="#636363"/>
<rect x="1124.8" y="168.05" width="42.5" height="9.66" fill="#5e5e5e"/>
<rect x="1124.8" y="158.99" width="42.5" height="9.66" fill="#5a5a5a"/>
<rect x="1124.8" y="149.94" width="42.5" height="9.66" fill="#575757"/>
<rect x="1124.8" y="140.88" width="42.5" height="9.66" fill="#535353"/>
<rect x="1124.8" y="131.82" width="42.5" height="9.66" fill="#4e4e4e"/>
<rect x="1124.8" y="122.76" width="42.5" height="9.66" fill="#4a4a4a"/>
<rect x="1124.8" y="113.70" width="42.5" height="9.66" fill="#464646"/>
<rect x="1124.8" y="104.64" width="42.5" height="9.66" fill="#424242"/>
<rect x="1124.8" y="95.58" width="42.5" height="9.66" fill="#3e3e3e"/>
<rect x="1124.8" y="86.52" width="42.5" height="9.66" fill="#3a3a3a"/>
<rect x="1124.8" y="77.46" width="42.5" height="9.66" fill="#363636"/>
<rect x="1124.8" y="68.40" width="42.5" height="9.66" fill="#323232"/>
<rect x="1124.8" y="59.35" width="42.5" height="9.66" fill="#2e2e2e"/>
<rect x="1124.8" y="50.29" width="42.5" height="9.66" fill="#2a2a2a"/>
<rect x="1124.8" y="41.23" width="42.5" height="9.66" fill="#262626"/>
<rect x="1124.8" y="32.17" width="42.5" height="9.66" fill="#222222"/>
<rect x="1124.8" y="23.11" width="42.5" height="9.66" fill="#1e1e1e"/>
<rect x="1124.8" y="14.05" width="42.5" height="9.66" fill="#1a1a1a"/>
</g>
<path class="t" d="M130.0,865.6v9.20M274.1,865.6v9.20M418.2,865.6v9.20M562.4,865.6v9.20M706.5,865.6v9.20M850.6,865.6v9.20M994.7,865.6v9.20M130.0,864.1h-9.20M130.0,760.4h-9.20M130.0,656.8h-9.20M130.0,553.2h-9.20M130.0,449.5h-9.20M130.0,345.9h-9.20M130.0,242.2h-9.20M130.0,138.6h-9.20M130.0,35.0h-9.20M1167.3,838.4h8.70M1167.3,747.8h8.70M1167.3,657.2h8.70M1167.3,566.7h8.70M1167.3,476.1h8.70M1167.3,385.5h8.70M1167.3,294.9h8.70M1167.3,204.3h8.70M1167.3,113.7h8.70M1167.3,23.1h8.70"/>
<rect class="sp" x="130" y="14.1" width="936" height="851.6"/>
<rect class="sp" x="1124.8" y="14.1" width="42.5" height="851.6"/>
<text class="tk" text-anchor="middle" x="130.0" y="904.4">0.0</text>
<text class="tk" text-anchor="middle" x="274.1" y="904.4">0.2</text>
<text class="tk" text-anchor="middle" x="418.2" y="904.4">0.4</text>
<text class="tk" text-anchor="middle" x="562.4" y="904.4">0.6</text>
<text class="tk" text-anchor="middle" x="706.5" y="904.4">0.8</text>
<text class="tk" text-anchor="middle" x="850.6" y="904.4">1.0</text>
<text class="tk" text-anchor="middle" x="994.7" y="904.4">1.2</text>
<text class="tk" text-anchor="end" x="113.9" y="875.6">1.0</text>
<text class="tk" text-anchor="end" x="113.9" y="771.9">1.5</text>
<text class="tk" text-anchor="end" x="113.9" y="668.3">2.0</text>
<text class="tk" text-anchor="end" x="113.9" y="564.7">2.5</text>
<text class="tk" text-anchor="end" x="113.9" y="461.0">3.0</text>
<text class="tk" text-anchor="end" x="113.9" y="357.4">3.5</text>
<text class="tk" text-anchor="end" x="113.9" y="253.7">4.0</text>
<text class="tk" text-anchor="end" x="113.9" y="150.1">4.5</text>
<text class="tk" text-anchor="end" x="113.9" y="46.5">5.0</text>
<text class="tk" x="1183.9" y="850.4">0.0</text>
<text class="tk" x="1183.9" y="759.8">0.4</text>
<text class="tk" x="1183.9" y="669.2">0.8</text>
<text class="tk" x="1183.9" y="578.7">1.2</text>
<text class="tk" x="1183.9" y="488.1">1.6</text>
<text class="tk" x="1183.9" y="397.5">2.0</text>
<text class="tk" x="1183.9" y="306.9">2.4</text>
<text class="tk" x="1183.9" y="216.3">2.8</text>
<text class="tk" x="1183.9" y="125.7">3.2</text>
<text class="tk" x="1183.9" y="35.1">3.6</text>
<text class="lb" transform="translate(459.50,945.40)"><tspan x="0" y="0">Mass ratio <tspan class="it" x="176.05">m</tspan><tspan class="sb" x="207.47" dy="5.25">2</tspan><tspan x="222.71" dy="-5.25">/</tspan><tspan class="it" x="233.57">m</tspan><tspan class="sb" x="264.99" dy="5.25">1</tspan></tspan></text>
<text class="lb" transform="translate(51.40,658.30) rotate(-90)"><tspan x="0" y="0">Semi-major axis ratio <tspan class="it" x="354.55">a</tspan><tspan class="sb" x="374.31" dy="5.25">2</tspan><tspan x="389.55" dy="-5.25">/</tspan><tspan class="it" x="400.42">a</tspan><tspan class="sb" x="420.18" dy="5.25">1</tspan></tspan></text>
<text class="an it" transform="translate(1265.00,451.00) rotate(-90)">ξ</text>
<text class="an" style="fill:#000" x="706.40" y="152.80">GR suppresses<tspan x="706.40" dy="41.21">eccentricity</tspan><tspan x="706.40" dy="41.21"> oscillations</tspan></text>
<text class="an" style="fill:#fff" x="202.00" y="732.80">GR amplifies<tspan x="202.00" dy="41.21">eccentricity</tspan><tspan x="202.00" dy="41.21"> oscillations</tspan></text>
<text style="font-size:32.2px" transform="translate(354.40,131.60) rotate(59.80)"><tspan class="it" x="0" y="0">ξ</tspan><tspan x="24.25">=</tspan><tspan x="57.53">1</tspan></text>
</svg></body></html>
